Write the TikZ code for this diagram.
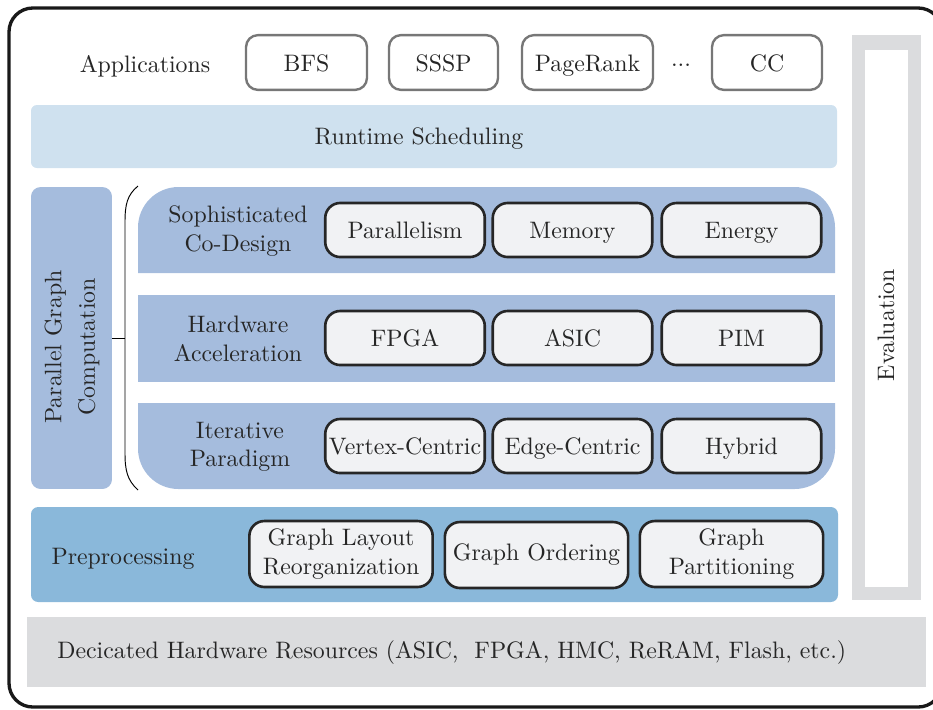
\documentclass[tikz,border=0pt]{standalone}
\usepackage{tikz}
\usetikzlibrary{positioning,calc}
\definecolor{schedblue}{HTML}{CFE1EF}
\definecolor{layerblue}{HTML}{A5BCDD}
\definecolor{prepblue}{HTML}{8AB8DA}
\definecolor{boxgray}{HTML}{F1F2F4}
\definecolor{hwgray}{HTML}{DBDCDE}
\definecolor{appgray}{HTML}{777777}
\tikzset{
  appbox/.style={
    rectangle,
    rounded corners=5pt,
    draw=appgray, line width=1pt,
    fill=white,
    minimum height=23pt,
    text height=2ex, text depth=0.3ex,
    text centered},
  techbox/.style={
    rectangle,
    rounded corners=6.3pt,
    draw=black!85, line width=1.1pt,
    fill=boxgray,
    minimum width=67pt,
    minimum height=22.7pt,
    inner sep=1pt,
    text height=2ex, text depth=0.3ex,
    text centered},
  prepbox/.style={techbox, minimum width=77pt, minimum height=27.7pt,
    text height=, text depth=, align=center},
  layerlabel/.style={align=center},
}

\begin{document}
\begin{tikzpicture}[
    x=0.42pt, y=-0.42pt,
    every node/.style={color=black!85},
    frame/.style={line width=1.4pt, black!90, rounded corners=10pt},
    brace line/.style={thin, black}
    ]
    \useasboundingbox (0,0) rectangle (933,709);

    % frame
    \draw[frame] (9,8) rectangle (942,707);

    % applications
    \node (apps) at (145,66) {Applications};
    \node[appbox, minimum width=50.8pt] (bfs) at (306.5,62.5) {BFS};
    \node[appbox, minimum width=45.8pt] (sssp) at (443.5,62.5) {SSSP};
    \node[appbox, minimum width=55pt] (pagerank) at (587.5,62.5) {PageRank};
    \node (dots) at (681,65) {...};
    \node[appbox, minimum width=46.2pt] (cc) at (767,62.5) {CC};

    % runtime scheduling
    \fill[schedblue, rounded corners=2.5pt] (31,105) rectangle (837,168);
    \node (sched) at (419,139) {Runtime Scheduling};

    % evaluation
    \fill[hwgray] (852,35) rectangle (921,600);
    \fill[white] (865,50) rectangle (908,587);
    \node[rotate=90] (eval) at (886,325) {Evaluation};

    % parallel graph computation
    \node[fill=layerblue, rounded corners=4pt, rotate=90,
          minimum width=126.8pt, minimum height=34pt, inner sep=0pt]
          (pgc) at (71.5,338) {};
    \node[rotate=90, align=center] (pgclabel) at (72,347)
          {Parallel Graph\\[2pt]Computation};
    \draw[brace line] (138,186) .. controls (127,195) and (125,205) .. (125,222)
        -- (125,453) .. controls (125,470) and (127,480) .. (138,490);
    \coordinate (brace) at (125,338);
    \draw[brace line] (pgc.south) -- (brace);

    % layers
    \fill[layerblue] (138,273) [rounded corners=17pt] -- (138,187) -- (835,187)
        [sharp corners] -- (835,273) -- cycle;
    \fill[layerblue] (138,295) rectangle (835,382);
    \fill[layerblue] (138,403) -- (835,403) [rounded corners=17pt] -- (835,489)
        -- (138,489) [sharp corners] -- cycle;

    \node[layerlabel] (codesign) at (238,231) {Sophisticated\\Co-Design};
    \node[techbox] (parallelism) at (405,230) {Parallelism};
    \node[techbox] (memory) at (572.5,230) {Memory};
    \node[techbox] (energy) at (741.5,230) {Energy};

    \node[layerlabel] (accel) at (238,339) {Hardware\\Acceleration};
    \node[techbox] (fpga) at (405,338) {FPGA};
    \node[techbox] (asic) at (572.5,338) {ASIC};
    \node[techbox] (pim) at (741.5,338) {PIM};

    \node[layerlabel] (paradigm) at (240,447) {Iterative\\Paradigm};
    \node[techbox] (vertex) at (405,446) {Vertex-Centric};
    \node[techbox] (edge) at (572.5,446) {Edge-Centric};
    \node[techbox] (hybrid) at (741.5,446) {Hybrid};

    % preprocessing
    \fill[prepblue, rounded corners=3pt] (31,507) rectangle (838,602);
    \node (prep) at (123,559) {Preprocessing};
    \node[prepbox] (layout) at (341,554) {Graph Layout\\Reorganization};
    \node[prepbox] (ordering) at (536.5,555) {Graph Ordering};
    \node[prepbox] (partition) at (731.5,554) {Graph\\Partitioning};

    % hardware resources
    \fill[hwgray] (27,617) rectangle (926,687);
    \node[anchor=west] (hw) at (49,653)
        {Decicated Hardware Resources (ASIC,~ FPGA, HMC, ReRAM, Flash, etc.)};

\end{tikzpicture}
\end{document}
